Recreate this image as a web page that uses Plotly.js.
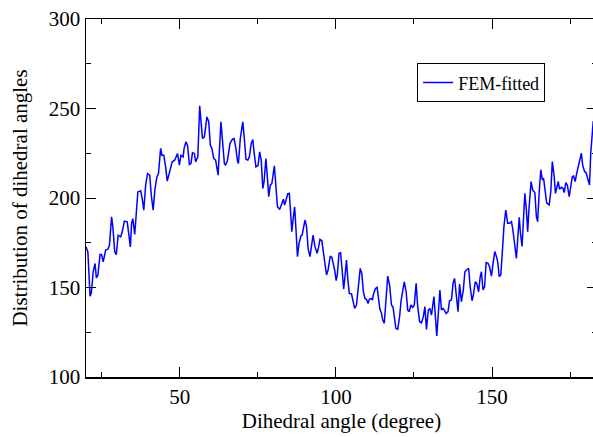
<!DOCTYPE html>
<html>
<head>
<meta charset="utf-8">
<script src="https://cdn.plot.ly/plotly-3.0.1.min.js"></script>
<style>html,body{margin:0;padding:0;overflow:hidden;background:#fff;}#chart{width:600px;height:437px;}</style>
</head>
<body>
<div id="chart"></div>
<script>
const angle = [20,20.6,21.3,21.7,22.3,22.9,23.3,23.8,24.5,25,25.5,26.3,27,27.5,28.2,28.6,29.2,29.7,30.3,31.1,31.6,32.3,33.2,33.6,34.2,34.6,35,35.6,36.1,36.6,37.5,38,38.5,39.1,39.7,40.4,40.9,41.5,42.1,42.7,43.2,43.9,44.3,44.9,45.5,46,46.5,47.1,47.6,48.4,48.9,49.3,49.9,50.4,51.1,51.4,52,52.5,53.1,53.6,54.1,54.7,55.1,55.8,56.4,56.9,57.3,57.9,58.7,59.3,59.8,60.3,60.9,61.5,61.9,62.3,63.2,63.7,64.3,64.7,65.3,66.1,66.9,67.4,68,68.5,68.8,69.4,70.2,70.7,71.2,71.8,72.3,72.9,73.4,73.8,74.4,75.1,75.6,76.1,76.6,77,77.6,78.1,78.5,79,79.5,80.3,80.8,81.3,82,82.6,83.2,83.6,84.1,84.6,85.1,85.9,86.4,86.8,87.3,87.7,88.2,88.8,89.2,89.7,90.1,90.6,91.1,91.7,92.3,92.7,93.3,94,94.5,94.9,95.5,95.9,96.5,97,97.5,98.2,98.7,99.3,99.6,100.1,100.5,101,101.5,102,102.5,102.9,103.4,103.8,104.3,105,105.5,106,106.6,107.3,107.8,108.3,108.8,109.3,109.8,110.3,110.7,111.3,111.7,112.1,112.7,113.2,113.6,114.1,114.6,115,115.5,116,116.6,117.2,117.8,118.3,118.7,119.2,119.8,120.4,120.9,121.4,121.9,122.5,123,123.5,124,124.6,125.1,125.7,126.2,126.8,127.4,128,128.5,129,129.6,130.1,130.6,131.4,131.8,132.3,132.8,133.3,133.8,134.3,134.7,135.3,135.9,136.4,137,137.5,138,138.6,139.1,139.6,140.2,140.8,141.3,141.8,142.5,143,143.6,144.1,144.6,145.1,145.7,146.2,146.6,147.1,147.6,148.1,148.7,149.2,149.8,150.4,150.9,151.4,151.8,152.3,152.8,153.3,153.8,154.4,155,155.6,156.2,156.6,157.1,157.8,158.2,158.7,159.1,159.6,160,160.5,161,161.4,161.8,162.5,163,163.7,164.2,164.6,165.1,165.6,166.1,166.5,167.1,167.5,168.3,168.8,169.3,169.9,170.3,170.7,171.2,171.6,172.2,172.7,173.1,173.6,174.1,174.7,175.2,175.7,176.1,176.6,177.1,177.8,178.3,178.6,179,179.6,180.1,180.8,181.2,181.6,182.1,182.4];
const femFitted = [172.7,169.9,145.2,146.9,158.8,163.4,155.4,156.9,168.4,168.4,164.3,170.9,171.4,173.6,189.5,183.9,170,168.4,179.2,178.3,181.1,187.1,186.7,182,172.7,185.8,188.5,179.6,194.1,203.4,204,199.7,193.2,207.2,213.7,212.8,201.6,193.2,205.3,211.8,213.7,227.7,223.9,223.9,217.4,209.4,212.8,217.4,220.2,221.1,223.9,224.9,218.3,223.9,223,227.7,231.4,229.5,218.7,219.3,225.4,224.9,220.2,223,251.5,242.6,233.2,234.2,245.3,242.6,229.5,227.7,222.1,221.1,217.4,212.8,242.6,229.5,219.3,218.3,221.1,230.4,232.9,233.2,227.7,220.6,219.3,233.2,242.6,233.2,221.7,221.1,223,230.4,232.7,225.8,217.4,218.3,225.8,221.1,205.3,209,222.1,210.9,200.7,207.2,208.1,218,205.3,195.1,193.6,196,199.3,196,198.8,202.4,202.6,181.2,189.6,195.1,180.2,167.2,174.7,178.8,179.3,184.9,187.7,184,171.9,167.2,176.5,179.3,172.8,169.1,172.8,176.9,176.1,170.9,160.7,157,159.8,167.6,166.8,162.6,159.8,153.8,157.9,169.1,169.4,159.8,149,156,165.3,155.1,146.7,146.4,143,138.3,140.2,150.4,160.7,157.9,147.7,143.9,143.4,141.1,143.4,143.9,143,146.7,149.5,150.1,144.9,137.8,135.6,131.8,130,141.1,156.4,151.4,140.2,138.9,133.7,127.2,126.6,133.7,143,149.5,153.2,147.6,137.4,136.5,140.2,138.9,140.2,152.3,139.3,130.9,130.3,133.7,139.3,126.6,137.4,138.3,134.6,144.9,132.8,122.9,135.5,148.6,137.4,138.3,137.4,135.5,136.5,142.6,143,152.3,155.1,145.8,136.5,151.9,142.1,148.6,158.8,159.8,160.7,150.4,142.6,146.7,153.2,152.3,147.6,156,158.8,148.6,150.4,163.9,163.5,161.6,156.4,164.5,170.1,167.3,164.5,156.1,157,170.1,184,193.3,185.9,185.9,186.8,183.1,174.7,166.3,176.6,189.2,180.3,172.9,185.9,202.6,193.3,181.2,193.3,209.2,204.5,203,189.6,186.8,203.6,215.7,210.1,211,202.6,197.1,196.1,203.6,220.3,211.9,202.6,206,209.2,204.9,206,205.4,203,208.6,207.3,200.8,205.4,211.9,212.3,209.2,213.8,219.4,224.1,225,218.5,214.8,214.2,210.1,207.3,225,238,243];
const xTicks = [50, 100, 150];
const yTicks = [100, 150, 200, 250, 300];

const fontFam = '"Liberation Serif", "Times New Roman", serif';
const trace = {
  x: angle, y: femFitted, type: 'scatter', mode: 'lines', name: 'FEM-fitted',
  line: {color: '#0000ff', width: 1.5}
};
const axisCommon = {
  showline: true, linecolor: '#000', linewidth: 1.5, mirror: 'ticks',
  ticks: 'inside', ticklen: 10, tickwidth: 1, tickcolor: '#000',
  showgrid: false, zeroline: false,
  tickfont: {family: fontFam, size: 21, color: '#000'}
};
const layout = {
  width: 600, height: 437,
  margin: {l: 86, r: 3, t: 19, b: 60},
  paper_bgcolor: '#fff', plot_bgcolor: '#fff',
  showlegend: true,
  legend: {x: 0.648, y: 0.876, xanchor: 'left', yanchor: 'top',
    bordercolor: '#000', borderwidth: 1, bgcolor: '#fff',
    tracegroupgap: 0, itemwidth: 30,
    font: {family: fontFam, size: 18, color: '#000'}},
  xaxis: Object.assign({}, axisCommon, {
    range: [20, 183.6], tickvals: xTicks,
    minor: {dtick: 25, tick0: 0, ticks: 'inside', ticklen: 5, tickcolor: '#000', showgrid: false},
    title: {text: 'Dihedral angle (degree)', font: {family: fontFam, size: 21, color: '#000'}, standoff: 5}
  }),
  yaxis: Object.assign({}, axisCommon, {
    range: [100, 300], tickvals: yTicks,
    minor: {dtick: 25, tick0: 0, ticks: 'inside', ticklen: 5, tickcolor: '#000', showgrid: false},
    title: {text: 'Distribution of dihedral angles', font: {family: fontFam, size: 21, color: '#000'}, standoff: 15}
  })
};
Plotly.newPlot('chart', [trace], layout, {displayModeBar: false, staticPlot: true});
</script>
</body>
</html>
